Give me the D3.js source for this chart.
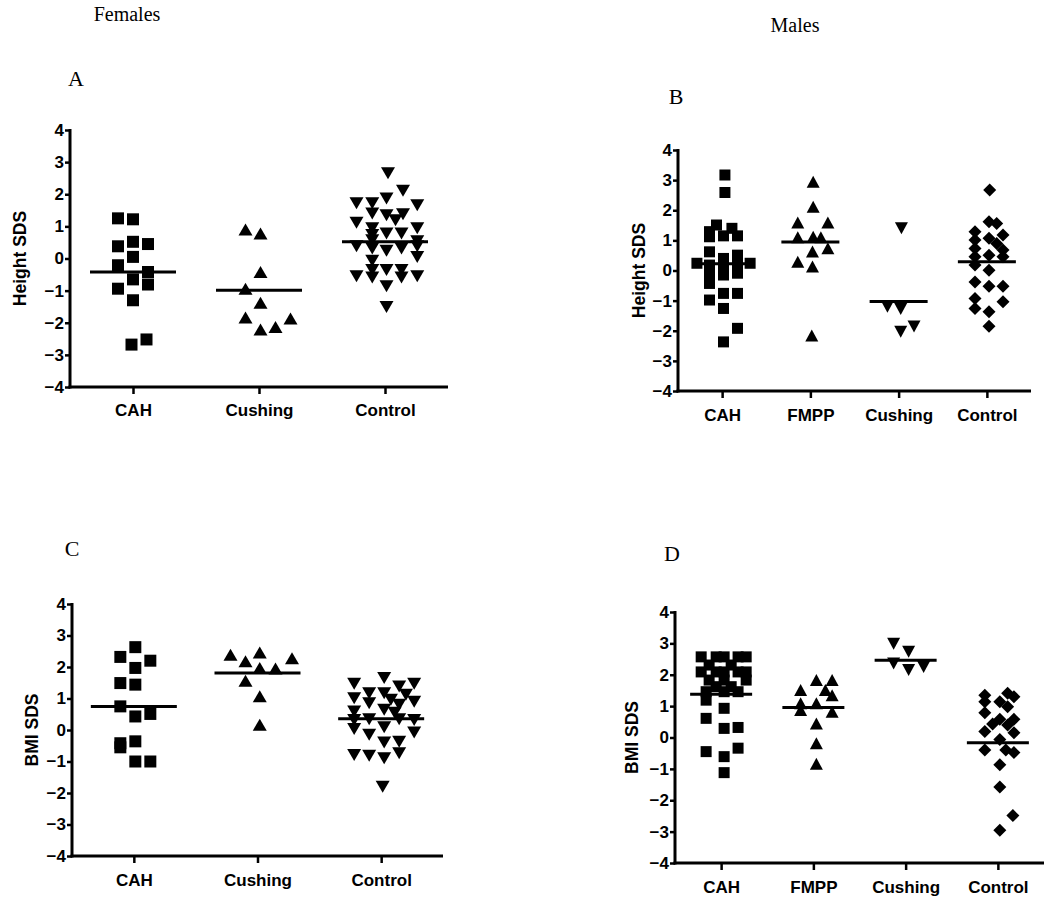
<!DOCTYPE html>
<html><head><meta charset="utf-8">
<script src="https://cdn.jsdelivr.net/npm/d3@7"></script>
<style>body{margin:0;background:#fff}</style>
</head><body><svg id="c" width="1050" height="909"></svg>
<script>
// ---------- data ----------
const yTickValues = [4, 3, 2, 1, 0, -1, -2, -3, -4];
const femaleCategories = ["CAH", "Cushing", "Control"];
const maleCategories = ["CAH", "FMPP", "Cushing", "Control"];

// each point: [SDS value, column slot within its group]
const aHeightCAH = [[1.25,-1],[1.22,0],[0.38,-1],[0.52,0],[0.45,1],[0.05,0],[-0.21,-1],[-0.65,0],[-0.42,1],[-0.94,-1],[-0.81,1],[-1.30,0],[-2.68,-0.1],[-2.52,0.9]];
const aHeightCushing = [[0.90,-0.9],[0.78,0.1],[-0.42,0.1],[-0.94,-0.9],[-1.38,0.1],[-1.84,-0.9],[-2.21,0.1],[-2.13,1.1],[-1.87,2.1]];
const aHeightControl = [[2.65,0.2],[2.11,1.2],[1.87,0.1],[1.72,-1.9],[1.72,-0.85],[1.66,2.15],[1.40,-0.85],[1.35,0.1],[1.19,0.7],[1.38,1.2],[1.11,-1.9],[0.94,-0.85],[0.94,2.15],[0.73,-0.85],[0.78,0.1],[0.78,1.1],[0.57,-0.85],[0.54,2.15],[0.38,-1.9],[0.31,-0.85],[0.24,0.1],[0.31,1.1],[0.38,2.15],[-0.07,-0.85],[0.05,2.15],[-0.36,-0.85],[-0.36,0.1],[-0.36,1.1],[-0.55,-1.9],[-0.59,-0.85],[-0.59,1.1],[-0.55,2.15],[-0.86,0.1],[-1.51,0.1]];
const aMeans = [-0.42, -0.99, 0.52];

const bHeightCAH = [[3.17,0.2],[2.59,0.2],[1.51,-0.4],[1.29,-0.9],[1.12,-0.9],[1.40,0.7],[1.15,1.1],[1.15,0.1],[0.62,-0.9],[0.40,0.1],[0.51,1.1],[0.24,-1.8],[0.18,-0.9],[0.12,0.1],[0.18,1.1],[0.24,2],[-0.15,-0.9],[-0.15,0.1],[-0.09,1.1],[-0.43,-0.9],[-0.76,0.1],[-0.76,1.1],[-0.98,-0.9],[-1.26,0.1],[-1.92,1.1],[-2.37,0.1]];
const bHeightFMPP = [[2.95,0.2],[2.12,0.2],[1.59,-0.9],[1.59,1.25],[1.10,-0.9],[1.12,0.2],[1.10,0.75],[0.63,0.15],[0.74,1.25],[0.29,-0.9],[0.13,0.15],[-2.16,0.1]];
const bHeightCushing = [[1.40,0.2],[-1.20,-0.8],[-1.28,0.15],[-2.03,0.15],[-1.86,1.1]];
const bHeightControl = [[2.67,0.2],[1.62,0.15],[1.56,0.7],[1.29,-0.85],[1.18,1.15],[1.01,-0.85],[1.07,0.15],[0.90,0.7],[0.73,-0.85],[0.68,1.15],[0.46,-0.85],[0.51,0.15],[0.46,1.15],[0.18,-0.85],[0.01,0.15],[-0.38,-0.85],[-0.52,0.15],[-0.52,1.15],[-0.93,-0.85],[-1.04,1.15],[-1.26,-0.85],[-1.37,0.15],[-1.85,0.15]];
const bMeans = [0.22, 0.95, -1.03, 0.29];

const cBmiCAH = [[2.63,0.1],[2.32,-0.9],[2.20,1.1],[1.97,0.1],[1.49,-0.9],[1.44,0.1],[0.75,-0.9],[0.43,0.1],[0.51,1.1],[-0.42,-0.9],[-0.36,0.1],[-0.55,-0.9],[-1.0,0.1],[-1.0,1.1]];
const cBmiCushing = [[2.39,-1.8],[2.18,-0.8],[2.46,0.15],[2.28,2.3],[1.97,0.15],[1.95,1.2],[1.56,-0.8],[1.07,0.15],[0.17,0.15]];
const cBmiControl = [[1.65,0.2],[1.47,-1.8],[1.38,1.2],[1.47,2.2],[1.01,-1.8],[1.17,-0.8],[1.17,0.2],[1.12,1.65],[0.85,-0.8],[0.96,0.65],[0.90,2.2],[0.80,1.2],[0.59,-1.8],[0.64,0.2],[0.55,0.9],[0.32,-1.8],[0.34,-0.8],[0.34,1.2],[0.32,2.2],[0.03,-1.8],[0.09,0.2],[-0.08,2.2],[-0.15,-0.8],[-0.40,0.2],[-0.37,1.2],[-0.79,-1.8],[-0.82,-0.8],[-0.90,0.2],[-0.74,1.2],[-1.80,0.1]];
const cMeans = [0.75, 1.81, 0.36];

const dBmiCAH = [[2.57,-1.33],[2.57,-0.33],[2.57,0.2],[2.57,1.13],[2.57,1.67],[2.31,-0.8],[2.31,0.67],[2.09,-1.33],[2.09,-0.33],[2.09,0.2],[2.09,1.13],[2.09,1.67],[1.83,-0.8],[1.83,0.2],[1.83,1.67],[1.62,-0.33],[1.62,0.67],[1.46,-1],[1.46,0.2],[1.46,1.13],[1.19,-1],[0.93,0.2],[0.61,-1],[0.29,0.2],[0.32,1.13],[-0.45,-1],[-0.34,1.13],[-0.61,0.2],[-1.12,0.2]];
const dBmiFMPP = [[1.51,-0.85],[1.83,0.2],[1.83,1.25],[1.51,0.8],[1.35,1.25],[1.09,-0.85],[1.09,0.2],[0.88,-0.85],[0.82,1.25],[0.45,0.2],[-0.18,0.2],[-0.84,0.2]];
const dBmiCushing = [[2.99,-0.8],[2.73,0.2],[2.36,-0.8],[2.15,0.2],[2.25,1.2]];
const dBmiControl = [[1.35,-0.87],[1.41,0.65],[1.30,1.07],[1.14,-0.87],[1.14,0.13],[0.98,0.65],[0.79,-0.87],[0.58,0.13],[0.58,1.07],[0.43,-0.35],[0.40,0.65],[0.19,-0.87],[0.15,1.07],[-0.06,0.13],[-0.40,-0.87],[-0.40,0.53],[-0.48,1.07],[-0.87,0.13],[-1.58,0.13],[-2.49,1.0],[-2.96,0.13]];
const dMeans = [1.38, 0.96, 2.46, -0.17];

// ---------- layout ----------
const panels = [
  {letter:"A", cats:femaleCategories, series:[aHeightCAH,aHeightCushing,aHeightControl], means:aMeans,
   shapes:["square","up","down"], yTitle:"Height SDS", x0:70, x1:448, yTop:130, yBot:387,
   slot:15, sq:12, tw:14, th:12, dm:13, half:43, titleX:20, catY:416, letterX:76, letterY:86},
  {letter:"B", cats:maleCategories, series:[bHeightCAH,bHeightFMPP,bHeightCushing,bHeightControl], means:bMeans,
   shapes:["square","up","down","diamond"], yTitle:"Height SDS", x0:678, x1:1031, yTop:150, yBot:391,
   slot:14, sq:11, tw:13, th:12, dm:13, half:29, titleX:639, catY:421, letterX:676, letterY:104},
  {letter:"C", cats:femaleCategories, series:[cBmiCAH,cBmiCushing,cBmiControl], means:cMeans,
   shapes:["square","up","down"], yTitle:"BMI SDS", x0:72, x1:443, yTop:604, yBot:856,
   slot:15, sq:12, tw:14, th:12, dm:13, half:43, titleX:32, catY:886, letterX:72, letterY:556},
  {letter:"D", cats:maleCategories, series:[dBmiCAH,dBmiFMPP,dBmiCushing,dBmiControl], means:dMeans,
   shapes:["square","up","down","diamond"], yTitle:"BMI SDS", x0:675, x1:1044, yTop:612, yBot:863,
   slot:15, sq:11, tw:13, th:12, dm:13, half:31, titleX:632, catY:893, letterX:672, letterY:561}
];

const svg = d3.select("#c");
const sans = "Arial, 'Liberation Sans', sans-serif";
const serif = "'Times New Roman', 'Liberation Serif', serif";

svg.append("text").attr("x", 127).attr("y", 21).attr("text-anchor","middle")
  .attr("font-family", serif).attr("font-size", 20).text("Females");
svg.append("text").attr("x", 795).attr("y", 32).attr("text-anchor","middle")
  .attr("font-family", serif).attr("font-size", 20).text("Males");

function shapePath(kind, p) {
  if (kind === "square") { const s = p.sq/2; return `M${-s},${-s}h${p.sq}v${p.sq}h${-p.sq}Z`; }
  if (kind === "up") return `M0,${-p.th/2}L${p.tw/2},${p.th/2}L${-p.tw/2},${p.th/2}Z`;
  if (kind === "down") return `M0,${p.th/2}L${p.tw/2},${-p.th/2}L${-p.tw/2},${-p.th/2}Z`;
  const d = p.dm/2; return `M0,${-d}L${d},0L0,${d}L${-d},0Z`;
}

panels.forEach(p => {
  const g = svg.append("g");
  const y = d3.scaleLinear().domain([-4, 4]).range([p.yBot, p.yTop]);
  const x = d3.scalePoint().domain(p.cats).range([p.x0, p.x1]).padding(0.5);

  g.append("text").attr("x", p.letterX).attr("y", p.letterY).attr("text-anchor","middle")
    .attr("font-family", serif).attr("font-size", 22).text(p.letter);

  // y axis
  const yAxis = d3.axisLeft(y).tickValues(yTickValues).tickSize(5).tickPadding(1).tickFormat(d3.format("d"));
  const ya = g.append("g").attr("transform", `translate(${p.x0},0)`).call(yAxis);
  ya.select(".domain").remove();
  ya.selectAll(".tick line").attr("stroke","#000").attr("stroke-width",2.5);
  ya.selectAll(".tick text").attr("font-family", sans).attr("font-weight","bold").attr("font-size",17).attr("fill","#000");
  g.append("line").attr("x1", p.x0).attr("x2", p.x0).attr("y1", y(4)-1).attr("y2", y(-4)+1.5)
    .attr("stroke","#000").attr("stroke-width",3);

  // x axis
  const xAxis = d3.axisBottom(x).tickSize(7).tickPadding(10);
  const xa = g.append("g").attr("transform", `translate(0,${y(-4)})`).call(xAxis);
  xa.select(".domain").remove();
  xa.selectAll(".tick line").attr("stroke","#000").attr("stroke-width",2.5);
  xa.selectAll(".tick text").attr("font-family", sans).attr("font-weight","bold").attr("font-size",17)
    .attr("fill","#000").attr("dy", null).attr("y", p.catY - y(-4));
  g.append("line").attr("x1", p.x0-1.5).attr("x2", p.x1).attr("y1", y(-4)).attr("y2", y(-4))
    .attr("stroke","#000").attr("stroke-width",3);

  // y title
  g.append("text").attr("transform", `translate(${p.titleX},${(y(4)+y(-4))/2}) rotate(-90)`)
    .attr("text-anchor","middle").attr("dy","0.35em")
    .attr("font-family", sans).attr("font-weight","bold").attr("font-size",17.5).text(p.yTitle);

  // points
  p.series.forEach((arr, i) => {
    const cx = x(p.cats[i]);
    g.append("g").selectAll("path").data(arr).join("path")
      .attr("d", shapePath(p.shapes[i], p))
      .attr("transform", d => `translate(${cx + d[1]*p.slot},${y(d[0])})`)
      .attr("fill","#000");
    g.append("line").attr("x1", cx - p.half).attr("x2", cx + p.half)
      .attr("y1", y(p.means[i])).attr("y2", y(p.means[i]))
      .attr("stroke","#000").attr("stroke-width",3);
  });
});
</script></body></html>
